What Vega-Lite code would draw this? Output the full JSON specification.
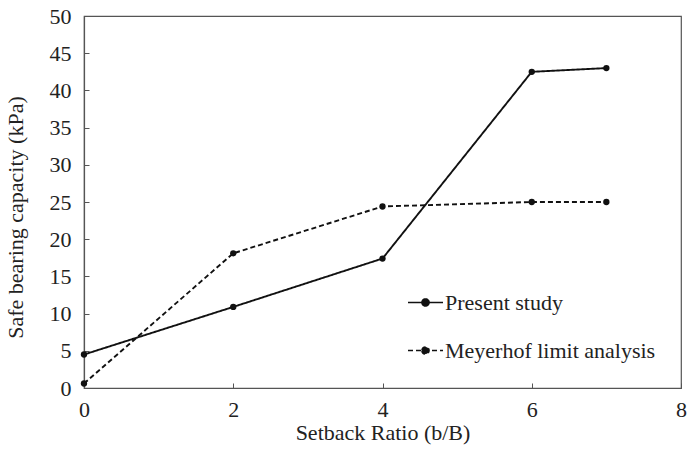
{
  "$schema": "https://vega.github.io/schema/vega-lite/v6.json",
  "width": 597,
  "height": 372,
  "autosize": {"type": "none"},
  "padding": {"left": 84, "top": 16, "right": 7, "bottom": 69},
  "background": "white",
  "config": {
    "font": "Liberation Serif",
    "view": {"stroke": "#555", "strokeWidth": 1.2},
    "axis": {
      "grid": false,
      "domainColor": "#555",
      "domainWidth": 1.2,
      "tickColor": "#555",
      "labelColor": "#222",
      "titleColor": "#222",
      "labelFont": "Liberation Serif",
      "titleFont": "Liberation Serif",
      "labelFontSize": 22,
      "titleFontSize": 22,
      "titleFontWeight": "normal",
      "labelFlush": false,
      "labelOverlap": false
    }
  },
  "data": {
    "values": [
      {"ratio": 0, "capacity": 4.5, "series": "Present study"},
      {"ratio": 2, "capacity": 10.9, "series": "Present study"},
      {"ratio": 4, "capacity": 17.4, "series": "Present study"},
      {"ratio": 6, "capacity": 42.5, "series": "Present study"},
      {"ratio": 7, "capacity": 43.0, "series": "Present study"},
      {"ratio": 0, "capacity": 0.6, "series": "Meyerhof limit analysis"},
      {"ratio": 2, "capacity": 18.1, "series": "Meyerhof limit analysis"},
      {"ratio": 4, "capacity": 24.4, "series": "Meyerhof limit analysis"},
      {"ratio": 6, "capacity": 25.0, "series": "Meyerhof limit analysis"},
      {"ratio": 7, "capacity": 25.0, "series": "Meyerhof limit analysis"}
    ]
  },
  "encoding": {
    "x": {
      "field": "ratio",
      "type": "quantitative",
      "title": "Setback Ratio (b/B)",
      "scale": {"domain": [0, 8], "nice": false},
      "axis": {"values": [0, 2, 4, 6, 8], "tickSize": -5, "labelPadding": 16, "titleY": 34, "titleBaseline": "top"}
    },
    "y": {
      "field": "capacity",
      "type": "quantitative",
      "title": "Safe bearing capacity (kPa)",
      "scale": {"domain": [0, 50], "nice": false},
      "axis": {"values": [0, 5, 10, 15, 20, 25, 30, 35, 40, 45, 50], "tickSize": -5, "labelPadding": 18, "titleX": -57, "titleY": 201}
    }
  },
  "layer": [
    {
      "mark": {"type": "line", "color": "#111", "strokeWidth": 1.9},
      "encoding": {
        "detail": {"field": "series"},
        "strokeDash": {
          "field": "series",
          "type": "nominal",
          "scale": {"domain": ["Present study", "Meyerhof limit analysis"], "range": [[1, 0], [5, 3]]},
          "legend": {
            "title": null,
            "orient": "none",
            "legendX": 323,
            "legendY": 268,
            "symbolType": "M-1,0H1M-0.2,0a0.2,0.2 0 1,0 0.4,0a0.2,0.2 0 1,0 -0.4,0",
            "symbolStrokeColor": "#111",
            "symbolFillColor": "#111",
            "symbolStrokeWidth": 1.7,
            "symbolSize": 1225,
            "labelFontSize": 22,
            "labelFont": "Liberation Serif",
            "labelColor": "#222",
            "labelLimit": 0,
            "rowPadding": 18,
            "labelOffset": 1
          }
        }
      }
    },
    {
      "mark": {"type": "point", "filled": true, "color": "#111", "size": 40, "opacity": 1},
      "encoding": {}
    }
  ]
}
